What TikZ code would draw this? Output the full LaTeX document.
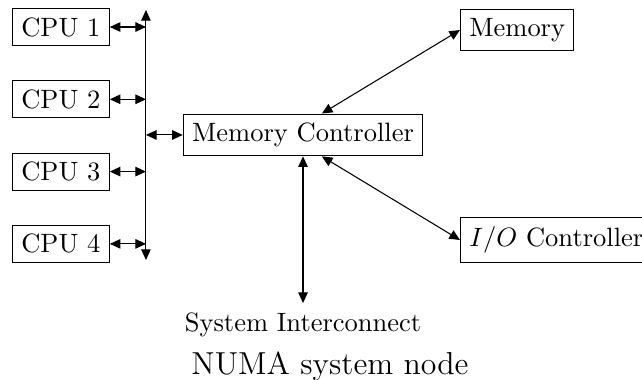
\documentclass[tikz,border=0pt]{standalone}
\usetikzlibrary{arrows.meta,positioning}

\tikzset{unit/.style={draw,rectangle}}

\begin{document}
\begin{tikzpicture}[>={Triangle[length=4pt,width=3.6pt]},auto,node distance=4.55mm]

            \useasboundingbox (0,0) rectangle (8.515,-5.027);

            \node[unit,anchor=west] (cpu1) at (0.159,-0.358) {CPU 1};

            \node[unit] (cpu2) [below=of cpu1] {CPU 2};

            \node[unit] (cpu3) [below=of cpu2] {CPU 3};

            \node[unit] (cpu4) [below=of cpu3] {CPU 4};

            \coordinate (bustop) at (1.936,-0.133);

            \coordinate (busbot) at (1.936,-3.448);

            \node[unit] (mc) at (4.019,-1.790) {Memory Controller};

            \node[unit,anchor=west] (mem) at (6.101,-0.398) {Memory};

            \node[unit,anchor=west] (io) at (6.101,-3.183) {$I/O$ Controller};

            \coordinate (sys) at (4.019,-4.019);

            \node[anchor=north] (syslabel) at (sys) {System Interconnect};

            \node[anchor=base] (title) at (4.377,-4.973) {\large NUMA system node};

            

            \draw[<->] (bustop) -- (busbot);

            \path[<->] (cpu1.east) edge (cpu1.east -| bustop)

                       (cpu2.east) edge (cpu2.east -| bustop)

                       (cpu3.east) edge (cpu3.east -| bustop)

                       (cpu4.east) edge (cpu4.east -| bustop)

                       (mc.west -| bustop) edge (mc.west)

                       ([xshift=2.5mm]mc.north) edge (mem.west)

                       ([xshift=2.5mm]mc.south) edge (io.west)

                       (mc) edge (sys);

        \end{tikzpicture}
\end{document}
